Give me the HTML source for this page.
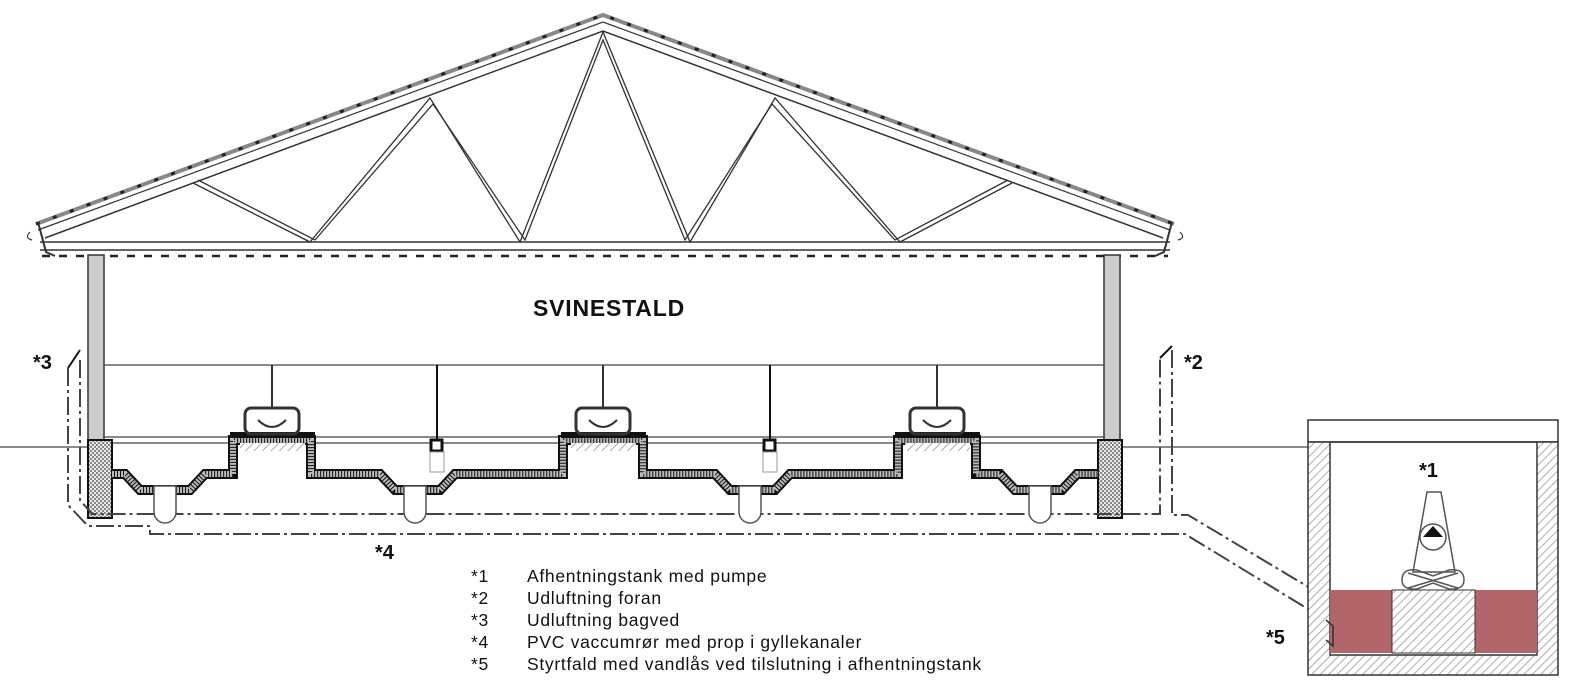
<!DOCTYPE html>
<html><head><meta charset="utf-8"><style>
html,body{margin:0;padding:0;background:#fff;}
svg{display:block;}
text{font-family:"Liberation Sans",Arial,sans-serif;fill:#111;}
</style></head><body>
<svg width="1572" height="700" viewBox="0 0 1572 700" xmlns="http://www.w3.org/2000/svg">
<defs>
<pattern id="hatch" width="6" height="6" patternUnits="userSpaceOnUse" patternTransform="rotate(45)">
<rect width="6" height="6" fill="#fff"/><line x1="0" y1="0" x2="0" y2="6" stroke="#999" stroke-width="1.6"/></pattern>
<pattern id="cross" width="4" height="4" patternUnits="userSpaceOnUse">
<rect width="4" height="4" fill="#e8e8e8"/><rect width="2" height="2" fill="#888"/><rect x="2" y="2" width="2" height="2" fill="#888"/></pattern>
</defs>

<!-- ROOF -->
<g fill="none" stroke="#333">
<polyline points="36,224 603,15 1174,224" stroke="#888" stroke-width="4"/>
<polyline points="36,224 603,15 1174,224" stroke="#222" stroke-width="3" stroke-dasharray="4 14"/>
<polyline points="38,230 603,22 1170,230" stroke-width="1.2"/>
<polyline points="45,238 603,31 1163,238" stroke-width="1.5"/>
<line x1="40" y1="242" x2="1170" y2="242" stroke-width="1.5"/>
<line x1="40" y1="250" x2="1170" y2="250" stroke-width="1.5"/>
<line x1="42" y1="256" x2="1168" y2="256" stroke="#222" stroke-width="2.5" stroke-dasharray="8 9"/>
<path d="M38 222 L46 252 L55 256" stroke-width="2"/>
<path d="M1172 222 L1164 252 L1155 256" stroke-width="2"/>
<path d="M30 232 q-6 6 2 8" stroke-width="1.2"/>
<path d="M1180 232 q6 6 -2 8" stroke-width="1.2"/>
<g stroke-width="1.3">
<polyline points="193,183 310,242 430,98 520,242 603,32 690,242 775,98 900,242 1012,183"/>
<polyline points="198,180 315,240 433,104 525,240 603,40 685,240 772,104 895,240 1008,180"/>
</g>
</g>

<!-- walls -->
<rect x="88" y="255" width="16" height="185" fill="#ccc" stroke="#333" stroke-width="1.5"/>
<rect x="1104" y="255" width="16" height="185" fill="#ccc" stroke="#333" stroke-width="1.5"/>
<g stroke="#444" stroke-width="1.2" fill="none">
<line x1="104" y1="365" x2="1104" y2="365"/>
<line x1="104" y1="437" x2="1104" y2="437"/>
<line x1="104" y1="443" x2="1104" y2="443"/>
<line x1="0" y1="447" x2="88" y2="447"/>
<line x1="1120" y1="447" x2="1308" y2="447"/>
</g>

<rect x="88" y="440" width="24" height="78" fill="url(#cross)" stroke="#111" stroke-width="2"/>
<rect x="1098" y="440" width="24" height="78" fill="url(#cross)" stroke="#111" stroke-width="2"/>

<!-- slab -->
<path d="M112 474 L125 474 L140 490 L190 490 L205 474 L233 474 L233 440 L311 440 L311 474 L380 474 L395 490 L440 490 L455 474 L563 474 L563 440 L643 440 L643 474 L715 474 L730 490 L775 490 L790 474 L898 474 L898 440 L976 440 L976 474 L1000 474 L1015 490 L1062 490 L1077 474 L1098 474" fill="none" stroke="#111" stroke-width="10"/>
<path d="M112 474 L125 474 L140 490 L190 490 L205 474 L233 474 L233 440 L311 440 L311 474 L380 474 L395 490 L440 490 L455 474 L563 474 L563 440 L643 440 L643 474 L715 474 L730 490 L775 490 L790 474 L898 474 L898 440 L976 440 L976 474 L1000 474 L1015 490 L1062 490 L1077 474 L1098 474" fill="none" stroke="#bbb" stroke-width="6" stroke-dasharray="2 1"/>

<g>
<rect x="230" y="432" width="85" height="6" fill="#111"/>
<rect x="240" y="443" width="65" height="8" fill="url(#hatch)"/>
<rect x="245" y="408" width="54" height="26" rx="6" fill="none" stroke="#333" stroke-width="3"/>
<line x1="272" y1="365" x2="272" y2="408" stroke="#333" stroke-width="2"/>
<path d="M258 420 q14 14 28 0" fill="none" stroke="#333" stroke-width="2"/>

<rect x="561" y="432" width="85" height="6" fill="#111"/>
<rect x="571" y="443" width="65" height="8" fill="url(#hatch)"/>
<rect x="576" y="408" width="54" height="26" rx="6" fill="none" stroke="#333" stroke-width="3"/>
<line x1="603" y1="365" x2="603" y2="408" stroke="#333" stroke-width="2"/>
<path d="M589 420 q14 14 28 0" fill="none" stroke="#333" stroke-width="2"/>

<rect x="895" y="432" width="85" height="6" fill="#111"/>
<rect x="905" y="443" width="65" height="8" fill="url(#hatch)"/>
<rect x="910" y="408" width="54" height="26" rx="6" fill="none" stroke="#333" stroke-width="3"/>
<line x1="937" y1="365" x2="937" y2="408" stroke="#333" stroke-width="2"/>
<path d="M923 420 q14 14 28 0" fill="none" stroke="#333" stroke-width="2"/>
</g>
<g stroke="#111" fill="#fff">
<line x1="437" y1="365" x2="437" y2="440" stroke-width="2"/>
<rect x="431" y="440" width="11" height="11" stroke-width="3"/>
<rect x="430" y="452" width="14" height="20" stroke="#999" stroke-width="1"/>
<line x1="770" y1="365" x2="770" y2="440" stroke-width="2"/>
<rect x="764" y="440" width="11" height="11" stroke-width="3"/>
<rect x="763" y="452" width="14" height="20" stroke="#999" stroke-width="1"/>
</g>

<g fill="none" stroke="#444" stroke-width="2" stroke-dasharray="18 4 3 4">
<path d="M80 360 L80 500 L92 514 L1160 514 L1160 358"/>
<path d="M68 368 L68 505 L88 526 L150 526 L150 534 L1185 534 L1326 620"/>
<path d="M1172 350 L1172 515 L1188 515 L1330 600"/>
</g>
<line x1="68" y1="368" x2="80" y2="350" stroke="#111" stroke-width="2"/>
<line x1="1160" y1="358" x2="1172" y2="346" stroke="#111" stroke-width="2"/>

<g fill="#fff" stroke="#555" stroke-width="1.5">
<path d="M154 486 L154 512 a11 11 0 0 0 22 0 L176 486 Z"/>
<path d="M404 486 L404 512 a11 11 0 0 0 22 0 L426 486 Z"/>
<path d="M739 486 L739 512 a11 11 0 0 0 22 0 L761 486 Z"/>
<path d="M1029 486 L1029 512 a11 11 0 0 0 22 0 L1051 486 Z"/>
</g>

<!-- TANK -->
<rect x="1308" y="420" width="250" height="22" fill="#fff" stroke="#333" stroke-width="1.5"/>
<path d="M1308 442 H1558 V675 H1308 Z M1330 442 V655 H1537 V442 Z" fill="url(#hatch)" fill-rule="evenodd" stroke="#333" stroke-width="1.5"/>
<rect x="1330" y="590" width="207" height="63" fill="#b3666a"/>
<rect x="1392" y="590" width="83" height="63" fill="url(#hatch)" stroke="#333" stroke-width="1"/>
<g fill="none" stroke="#555" stroke-width="1.5">
<path d="M1427 492 H1441 L1455 572 H1413 Z"/>
<circle cx="1433" cy="537" r="13" fill="#fff"/>
<path d="M1402 580 q0 -12 15 -10 q16 6 16 6 q0 0 16 -6 q15 -2 15 10 q0 10 -15 9 q-16 -6 -16 -6 q0 0 -16 6 q-15 1 -15 -9 Z"/>
<path d="M1408 573 L1458 588 M1458 573 L1408 588"/>
</g>
<path d="M1423 537 L1433 526 L1443 537 Z" fill="#111"/>
<path d="M1326 620 L1333 626 L1333 646 L1326 640" fill="none" stroke="#333" stroke-width="1.5"/>

<!-- TEXT -->
<text x="533" y="316" font-size="23" font-weight="bold" letter-spacing="0.8">SVINESTALD</text>
<text x="33" y="369" font-size="20" font-weight="bold">*3</text>
<text x="1184" y="369" font-size="20" font-weight="bold">*2</text>
<text x="375" y="559" font-size="20" font-weight="bold">*4</text>
<text x="1266" y="644" font-size="20" font-weight="bold">*5</text>
<text x="1419" y="477" font-size="20" font-weight="bold">*1</text>
<g font-size="17.5" letter-spacing="0.7">
<text x="471" y="582">*1</text><text x="527" y="582">Afhentningstank med pumpe</text>
<text x="471" y="604">*2</text><text x="527" y="604">Udluftning foran</text>
<text x="471" y="626">*3</text><text x="527" y="626">Udluftning bagved</text>
<text x="471" y="648">*4</text><text x="527" y="648">PVC vaccumrør med prop i gyllekanaler</text>
<text x="471" y="670">*5</text><text x="527" y="670">Styrtfald med vandlås ved tilslutning i afhentningstank</text>
</g>
</svg>
</body></html>
